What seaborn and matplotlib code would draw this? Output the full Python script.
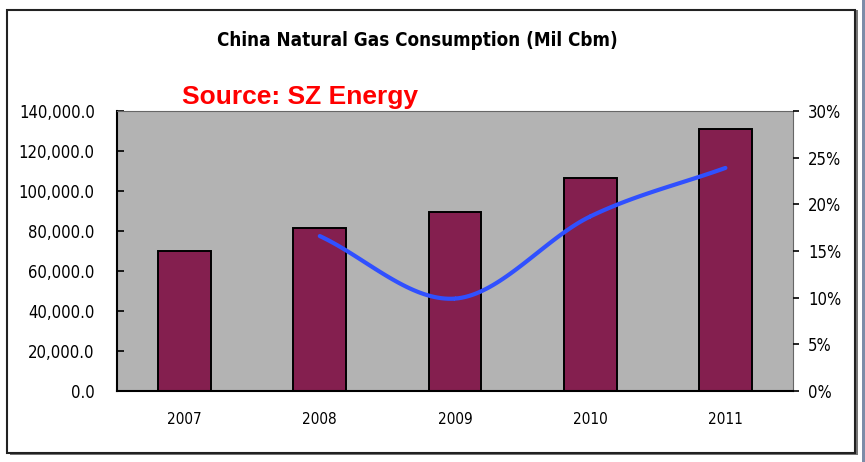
import numpy as np
import matplotlib
matplotlib.use("Agg")
import matplotlib.pyplot as plt
from matplotlib.patches import Rectangle
from matplotlib.ticker import FuncFormatter, FixedLocator
import seaborn as sns

years = ["2007", "2008", "2009", "2010", "2011"]
consumption = [70000, 81500, 89700, 106300, 131000]
growth_years = ["2008", "2009", "2010", "2011"]
growth = [16.6, 9.9, 18.7, 23.9]

sns.set_style("white")
plt.rcParams["font.family"] = ["DejaVu Sans"]
plt.rcParams["font.stretch"] = "condensed"
plt.rcParams["text.color"] = "black"
plt.rcParams["xtick.labelcolor"] = "black"
plt.rcParams["ytick.labelcolor"] = "black"


def catmull_rom(xs, ys, n=40):
    # smoothed line like the spreadsheet one
    px = np.r_[2 * xs[0] - xs[1], xs, 2 * xs[-1] - xs[-2]]
    py = np.r_[2 * ys[0] - ys[1], ys, 2 * ys[-1] - ys[-2]]
    out_x, out_y = [], []
    for i in range(1, len(px) - 2):
        t = np.linspace(0, 1, n)
        for p, out in ((px, out_x), (py, out_y)):
            p0, p1, p2, p3 = p[i - 1], p[i], p[i + 1], p[i + 2]
            out.extend(0.5 * (2 * p1 + (-p0 + p2) * t
                              + (2 * p0 - 5 * p1 + 4 * p2 - p3) * t ** 2
                              + (-p0 + 3 * p1 - 3 * p2 + p3) * t ** 3))
    return np.array(out_x), np.array(out_y)


fig = plt.figure(figsize=(8.65, 4.62), dpi=100)
fig.patch.set_facecolor("white")

# outer frame with shadow
fig.add_artist(Rectangle((10 / 865, 7 / 462), 848 / 865, 445 / 462, transform=fig.transFigure,
                         facecolor="#777777", edgecolor="none", zorder=0))
fig.add_artist(Rectangle((7 / 865, 9 / 462), 848 / 865, 443 / 462, transform=fig.transFigure,
                         facecolor="white", edgecolor="#222222", linewidth=1.5, zorder=0))
fig.add_artist(Rectangle((862 / 865, 0), 3 / 865, 1, transform=fig.transFigure,
                         facecolor="#7d8ca8", edgecolor="none", zorder=0))

ax = fig.add_axes([117 / 865, 71 / 462, 676 / 865, 280 / 462])
ax.set_facecolor("#b3b3b3")
sns.barplot(x=years, y=consumption, ax=ax, color="#841f4f", saturation=1,
            width=0.39, edgecolor="black", linewidth=1.4, zorder=2)
ax.set_xlim(-0.5, 4.5)
ax.set_ylim(0, 140000)
ax.yaxis.set_major_locator(FixedLocator(np.arange(0, 140001, 20000)))
ax.yaxis.set_major_formatter(FuncFormatter(lambda v, p: f"{v:,.1f}"))
ax.set_xlabel("")
ax.set_ylabel("")
ax.set_xticks(range(len(years)))
ax.set_xticks([0.5, 1.5, 2.5, 3.5], minor=True)
ax.tick_params(axis="x", which="major", length=0, pad=15, labelsize=11)
ax.tick_params(axis="x", which="minor", direction="in", length=5, width=1.2, color="black")
ax.tick_params(axis="y", direction="in", length=5, width=1.2, color="black", labelsize=12, pad=16)
for s in ["left", "bottom"]:
    ax.spines[s].set_color("black")
    ax.spines[s].set_linewidth(1.5)
ax.spines["top"].set_color("#666666")
ax.spines["right"].set_color("#666666")

ax2 = ax.twinx()
gx = np.array([years.index(y) for y in growth_years], dtype=float)
sx, sy = catmull_rom(gx, np.array(growth))
ax2.plot(sx, sy, color="#3050ff", linewidth=3, solid_capstyle="round", zorder=3)
ax2.set_ylim(0, 30)
ax2.yaxis.set_major_locator(FixedLocator(np.arange(0, 31, 5)))
ax2.yaxis.set_major_formatter(FuncFormatter(lambda v, p: f"{v:.0f}%"))
ax2.tick_params(axis="y", direction="out", length=4, width=1.2, color="black", labelsize=12, pad=7)
for s in ax2.spines.values():
    s.set_visible(False)

fig.text(417 / 865, 1 - 40 / 462, "China Natural Gas Consumption (Mil Cbm)", ha="center", va="center",
         fontsize=13.5, fontweight="bold", color="black")
fig.text(182 / 865, 1 - 97 / 462, "Source: SZ Energy", ha="left", va="center",
         fontsize=19, fontweight="bold", color="#ff0000", family=["Liberation Sans", "DejaVu Sans"],
         stretch="normal")

fig.savefig("out.png", dpi=100)
